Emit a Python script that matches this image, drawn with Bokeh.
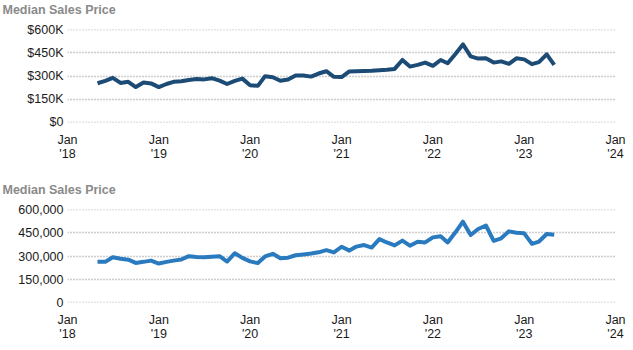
import pandas as pd
from bokeh.plotting import figure
from bokeh.layouts import column
from bokeh.models import Range1d, FixedTicker, NumeralTickFormatter, ColumnDataSource, Title
from bokeh.embed import file_html
from bokeh.resources import INLINE

title_text = "Median Sales Price"
start_month = "2018-05-01"

# Top panel (dark line), May 2018 .. May 2023
price_top = [
    253, 268, 288, 255, 262, 228, 258, 252,
    228, 248, 262, 266, 274, 280, 278, 286, 270, 248, 268, 283,
    240, 236, 299, 292, 269, 277, 303, 303, 296, 316, 331, 295,
    293, 330, 331, 332, 334, 338, 341, 346, 404, 361, 372, 387,
    366, 404, 383, 443, 505, 428, 413, 415, 387, 395, 379, 415,
    408, 377, 390, 440, 372,
]
# Bottom panel (light line), May 2018 .. May 2023
price_bottom = [
    262, 262, 292, 282, 276, 255, 262, 270,
    251, 262, 270, 277, 299, 293, 292, 295, 299, 264, 318, 288,
    265, 254, 297, 314, 286, 289, 305, 310, 316, 324, 338, 323,
    360, 335, 361, 371, 355, 410, 388, 369, 400, 367, 393, 388,
    421, 428, 388, 454, 523, 436, 475, 498, 398, 415, 460, 451,
    447, 379, 394, 443, 438,
]

year_ticks = ["2018-01-01", "2019-01-01", "2020-01-01", "2021-01-01",
              "2022-01-01", "2023-01-01", "2024-01-01"]
year_labels = ["Jan\n'18", "Jan\n'19", "Jan\n'20", "Jan\n'21",
               "Jan\n'22", "Jan\n'23", "Jan\n'24"]
y_ticks = [0, 150000, 300000, 450000, 600000]
y_labels_top = ["$0", "$150K", "$300K", "$450K", "$600K"]

FONT = "Liberation Sans"


def ms(s):
    return pd.Timestamp(s).value // 10**6


x_tick_ms = [ms(s) for s in year_ticks]


def make_fig(values, color, height, bottom_border, y_labels=None):
    dates = pd.date_range(start_month, periods=len(values), freq="MS")
    src = ColumnDataSource(dict(x=dates, y=[v * 1000 for v in values]))
    p = figure(width=633, height=height, x_axis_type="datetime",
               output_backend="svg", toolbar_location=None,
               x_range=Range1d(x_tick_ms[0], x_tick_ms[-1]),
               y_range=Range1d(-2000, 602000),
               min_border_left=67, min_border_right=18,
               min_border_top=29, min_border_bottom=bottom_border)
    # spacer panel next to the frame, then the visible title further out
    p.add_layout(Title(text=" ", text_font_size="1px", standoff=10), "above")
    p.add_layout(Title(text=title_text, text_font=FONT, text_font_size="12.5px",
                       text_font_style="bold", text_color="#8a8a8a",
                       offset=-65, standoff=0), "above")
    p.outline_line_color = None
    p.background_fill_color = "white"
    p.border_fill_color = "white"

    p.line("x", "y", source=src, line_width=4, line_color=color,
           line_join="round")

    p.xgrid.visible = False
    p.ygrid.grid_line_color = "#9a9a9a"
    p.ygrid.grid_line_dash = "1 2"
    p.ygrid.grid_line_width = 1.5

    xa = p.xaxis[0]
    xa.ticker = FixedTicker(ticks=x_tick_ms)
    xa.major_label_overrides = {t: l for t, l in zip(x_tick_ms, year_labels)}
    xa.axis_line_color = None
    xa.major_tick_line_color = None
    xa.minor_tick_line_color = None
    xa.major_tick_in = 0
    xa.major_tick_out = 0
    xa.major_label_standoff = 10
    xa.major_label_text_font = FONT
    xa.major_label_text_font_size = "12.5px"
    xa.major_label_text_color = "#1a1a1a"
    xa.major_label_text_line_height = 1.0

    ya = p.yaxis[0]
    ya.ticker = FixedTicker(ticks=y_ticks)
    if y_labels is not None:
        ya.major_label_overrides = {t: l for t, l in zip(y_ticks, y_labels)}
    else:
        ya.formatter = NumeralTickFormatter(format="0,0")
    ya.axis_line_color = None
    ya.major_tick_line_color = None
    ya.minor_tick_line_color = None
    ya.major_tick_in = 0
    ya.major_tick_out = 0
    ya.major_label_standoff = 4
    ya.major_label_text_font = FONT
    ya.major_label_text_font_size = "12.5px"
    ya.major_label_text_color = "#1a1a1a"
    return p


p1 = make_fig(price_top, "#1c4b75", 180, 58, y_labels_top)
p2 = make_fig(price_bottom, "#2a7abf", 170, 48)

layout = column(p1, p2, spacing=0)
open("out.html", "w").write(file_html(layout, INLINE))
